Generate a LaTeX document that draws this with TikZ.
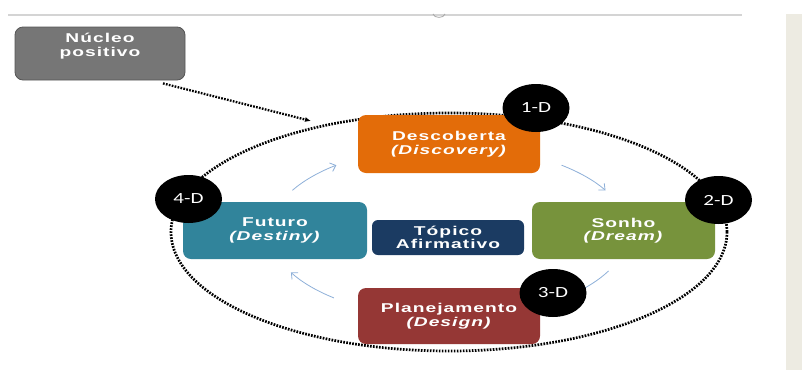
\documentclass[tikz,border=0pt]{standalone}
\usepackage{fontspec}
\usetikzlibrary{arrows.meta,shapes.geometric}
\newfontfamily\boxfont[FakeStretch=1.5,LetterSpace=8]{Liberation Sans}
\newfontfamily\tagfont[FakeStretch=1.36]{Carlito}
\definecolor{rulegray}{HTML}{D4D4D4}
\definecolor{panelbeige}{HTML}{EDEBE2}
\definecolor{coregray}{HTML}{767676}
\definecolor{coreedge}{HTML}{555555}
\definecolor{discorange}{HTML}{E36C09}
\definecolor{dreamgreen}{HTML}{77933C}
\definecolor{destinyteal}{HTML}{31849B}
\definecolor{topicnavy}{HTML}{1B3B62}
\definecolor{designred}{HTML}{953735}
\definecolor{flowblue}{HTML}{8DAFD8}
\tikzset{
  boxtext/.style={text=white, align=center, inner sep=0pt,
    font=\boxfont\bfseries\fontsize{12.8}{13.5}\selectfont},
  phasebox/.style={boxtext, rounded corners=8pt, draw=none},
  tagdisc/.style={ellipse, fill=black, text=white, minimum width=67pt, minimum height=48pt,
    inner sep=0pt, font=\tagfont\fontsize{15.5}{16}\selectfont},
  ringline/.style={line width=2.7pt, dash pattern=on 1.7pt off 1.3pt},
  flow/.style={flowblue, line width=0.8pt, -{Straight Barb[length=5pt,width=9pt]}}
}
\begin{document}
\begin{tikzpicture}[x=1pt,y=-1pt]
\useasboundingbox (0,0) rectangle (802,370);
% page furniture
\fill[panelbeige] (786,14) rectangle (802,370);
\draw[rulegray, line width=1.3pt] (8,15) -- (742,15);
\draw[gray!70, line width=0.8pt] (433,14) .. controls (434,18.5) and (444,18.5) .. (445,14);

% dotted cycle ring
\coordinate (ring) at (449,232);
\draw[ringline] (ring) ellipse [x radius=278, y radius=119];

% core box and its pointer onto the ring
\node[phasebox, fill=coregray, draw=coreedge, line width=0.8pt,
      minimum width=170pt, minimum height=53pt] (nucleo) at (100,53.5) {};
\node[boxtext] (nucleotxt) at (100,46) {Núcleo\\positivo};
\coordinate (tail) at ([shift={(63,3)}]nucleo.south);
\coordinate (entry) at (311,121);
\draw[ringline, line width=2.3pt, -{Latex[length=6pt,width=5pt]}] (tail) -- (entry);

% the four phases and the central topic
\node[phasebox, fill=discorange, minimum width=182pt, minimum height=58pt] (desc) at (449,144)
  {Descoberta\\\textit{(Discovery)}};
\node[phasebox, fill=dreamgreen, minimum width=183pt, minimum height=57pt] (sonho) at (623.5,230.5)
  {Sonho\\\textit{(Dream)}};
\node[phasebox, fill=destinyteal, minimum width=184pt, minimum height=57pt] (futuro) at (275,230.5)
  {Futuro\\\textit{(Destiny)}};
\node[phasebox, fill=topicnavy, rounded corners=6pt, minimum width=152pt, minimum height=35pt] (topico) at (448,237.5)
  {Tópico\\Afirmativo};
\node[phasebox, fill=designred, minimum width=182pt, minimum height=56pt] (plan) at (449,316)
  {Planejamento\\\textit{(Design)}};

% clockwise flow arrows between the phases
\coordinate (f1) at (292.4,190.3);
\coordinate (f2) at (561.6,165.2);
\coordinate (f3) at (608.5,271);
\coordinate (f4) at (333.9,297.9);
\draw[flow] (f1) arc[start angle=209, end angle=231, x radius=179, y radius=86];
\draw[flow] (f2) arc[start angle=309, end angle=331, x radius=179, y radius=86];
\draw[flow] (f3) arc[start angle=27, end angle=47, x radius=179, y radius=86];
\draw[flow] (f4) arc[start angle=130, end angle=152, x radius=179, y radius=86];

% step markers
\node[tagdisc] (d1) at (536,108) {1-D};
\node[tagdisc] (d2) at (718.5,200) {2-D};
\node[tagdisc] (d3) at (553,293) {3-D};
\node[tagdisc] (d4) at (188.5,199) {4-D};
\end{tikzpicture}
\end{document}
